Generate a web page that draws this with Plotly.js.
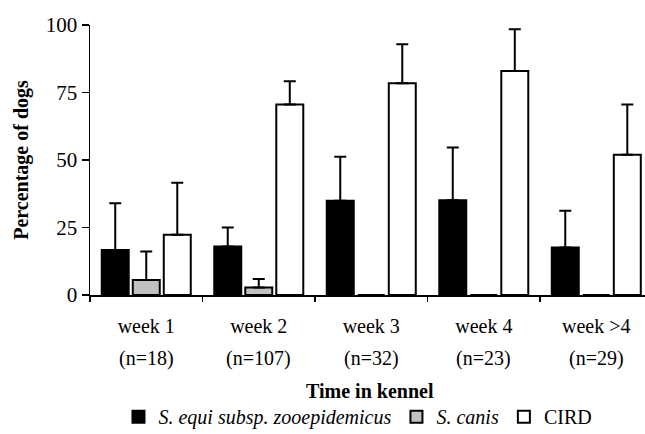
<!DOCTYPE html>
<html>
<head>
<meta charset="utf-8">
<script src="https://cdn.plot.ly/plotly-3.0.1.min.js"></script>
<style>html,body{margin:0;padding:0;background:#fff;overflow:hidden}</style>
</head>
<body>
<div id="chart" style="width:645px;height:434px"></div>
<script>
// Categories and sample sizes
const weeks = ["week 1", "week 2", "week 3", "week 4", "week >4"];
const sampleSizes = ["(n=18)", "(n=107)", "(n=32)", "(n=23)", "(n=29)"];
const xTitle = "Time in kennel";
const yTitle = "Percentage of dogs";

// Series: percentage of dogs
const zooepidemicus = [16.7, 18.0, 34.9, 35.1, 17.6];
const zooepidemicusErr = [17.3, 7.0, 16.3, 19.5, 13.6];
const canis = [5.6, 2.8, 0, 0, 0];
const canisErr = [10.5, 3.1, 0, 0, 0];
const cird = [22.3, 70.6, 78.4, 83.0, 51.9];
const cirdErr = [19.3, 8.6, 14.5, 15.4, 18.7];
const zeros = [0, 0, 0, 0, 0];

const serif = "Liberation Serif, Times New Roman, serif";

function series(name, y, err, fill) {
  return {
    type: "bar",
    name: name,
    x: weeks,
    y: y,
    marker: {color: fill, line: {color: "#000", width: 2}},
    error_y: {type: "data", array: err, arrayminus: zeros, symmetric: false,
              color: "#000", thickness: 2, width: 6},
    hoverinfo: "y"
  };
}

const data = [
  series("<i>S. equi subsp. zooepidemicus</i>", zooepidemicus, zooepidemicusErr, "#000000"),
  series("<i>S. canis</i>", canis, canisErr, "#c0c0c0"),
  series("CIRD", cird, cirdErr, "#ffffff")
];

const annotations = weeks.map((w, i) => ({
  x: w, xref: "x", y: -0.237, yref: "paper",
  text: sampleSizes[i], showarrow: false,
  xanchor: "center", yanchor: "middle",
  font: {family: serif, size: 20, color: "#000"}
}));
annotations.push({
  x: 0.505, xref: "paper", y: -0.356, yref: "paper",
  text: xTitle, showarrow: false, xanchor: "center", yanchor: "middle",
  font: {family: serif, size: 20, color: "#000", weight: "bold"}
});

const layout = {
  width: 645, height: 434,
  margin: {l: 90, r: 0, t: 25, b: 139},
  paper_bgcolor: "#fff", plot_bgcolor: "#fff",
  barmode: "group", bargap: 0.173, bargroupgap: 0.13,
  font: {family: serif, color: "#000"},
  showlegend: true,
  legend: {
    orientation: "h",
    xref: "container", x: 0.555, xanchor: "center",
    yref: "container", y: 0.04, yanchor: "middle",
    font: {family: serif, size: 20, color: "#000"},
    traceorder: "normal", bgcolor: "rgba(0,0,0,0)"
  },
  xaxis: {
    type: "category", range: [-0.5, 4.433],
    tickson: "boundaries", ticks: "outside", ticklen: 5, tickwidth: 1.5, tickcolor: "#000",
    showline: true, linecolor: "#000", linewidth: 1.5,
    showgrid: false, zeroline: false,
    ticklabelstandoff: 12,
    tickfont: {family: serif, size: 20, color: "#000"}
  },
  yaxis: {
    range: [0, 100], tickvals: [0, 25, 50, 75, 100],
    ticks: "outside", ticklen: 7, tickwidth: 1.5, tickcolor: "#000",
    showline: true, linecolor: "#000", linewidth: 1.5,
    showgrid: false, zeroline: false,
    tickfont: {family: serif, size: 21, color: "#000"},
    title: {text: yTitle, standoff: 12,
            font: {family: serif, size: 20, color: "#000", weight: "bold"}}
  },
  annotations: annotations
};

Plotly.newPlot("chart", data, layout, {displayModeBar: false, staticPlot: true});
</script>
</body>
</html>
